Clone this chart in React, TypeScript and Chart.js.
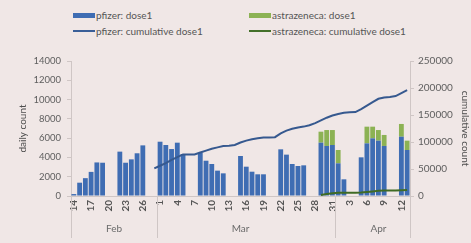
import React, { useEffect, useRef } from "react";
import { Chart, registerables } from "chart.js";

Chart.register(...registerables);

const feb = [14, 15, 16, 17, 18, 19, 20, 21, 22, 23, 24, 25, 26, 27, 28];
const mar = Array.from({ length: 31 }, (_, i) => i + 1);
const apr = [1, 2, 3, 4, 5, 6, 7, 8, 9, 10, 11, 12, 13];

const dayLabels: string[] = [
  ...feb.map((d) => "Feb " + d),
  ...mar.map((d) => "Mar " + d),
  ...apr.map((d) => "Apr " + d),
];

const months = ["Feb", "Mar", "Apr"];
const monthLabelAnchor = ["Feb 21", "Mar 15", "Apr 8"];

const pfizerDose1 = [
  // Feb 14-28
  200, 1380, 1850, 2500, 3480, 3450, 0, 0, 4600, 3450, 3800, 4430, 5250, 0, 0,
  // Mar 1-31
  5630, 5290, 4870, 5530, 4350, 0, 0, 4490, 3660, 3320, 2630, 2350, 0, 0, 4150,
  3040, 2520, 2250, 2250, 0, 0, 4840, 4290, 3320, 3110, 3180, 0, 0, 5530, 5190,
  5290,
  // Apr 1-13
  3390, 1730, 0, 0, 4010, 5460, 5980, 5740, 5190, 0, 0, 6150, 4770,
];

const azDose1 = [
  0, 0, 0, 0, 0, 0, 0, 0, 0, 0, 0, 0, 0, 0, 0,
  0, 0, 0, 0, 0, 0, 0, 0, 0, 0, 0, 0, 0, 0, 0,
  0, 0, 0, 0, 0, 0, 0, 0, 0, 0, 0, 0, 0, 1140, 1650,
  1550,
  1380, 0, 0, 0, 0, 1730, 1210, 1100, 1140, 0, 0, 1320, 970,
];

const pfizerCumulative: (number | null)[] = [
  null, null, null, null, null, null, null, null, null, null, null, null, null, null, 51000,
  56000, 61000, 67000, 72000, 77000, 77000, 77000, 80500, 84000, 87500, 90000, 92500, 93000, 94500, 99000,
  102500, 105000, 107000, 108500, 108500, 109000, 116000, 121000, 124500, 127000, 128500, 131000, 135000, 140000, 145000,
  149000,
  152000, 154000, 155000, 155500, 161000, 167500, 174000, 180000, 182500, 183500, 185000, 190500, 196000,
];

const azCumulative: (number | null)[] = [
  null, null, null, null, null, null, null, null, null, null, null, null, null, null, null,
  null, null, null, null, null, null, null, null, null, null, null, null, null, null, null,
  null, null, null, null, null, null, null, null, null, null, null, null, null, 2000, 3500,
  5000,
  6000, 6000, 6000, 6000, 6500, 7500, 8500, 9500, 10000, 10000, 10000, 10500, 11000,
];

const legendItems = [
  { label: "pfizer: dose1", color: "#3f6db3", kind: "box", col: 0, row: 0 },
  { label: "astrazeneca: dose1", color: "#8cb254", kind: "box", col: 1, row: 0 },
  { label: "pfizer: cumulative dose1", color: "#3a5f98", kind: "line", col: 0, row: 1 },
  { label: "astrazeneca: cumulative dose1", color: "#44702a", kind: "line", col: 1, row: 1 },
];

const BG = "#f0e7e6";
const FONT = "Lato, 'Open Sans', sans-serif";

export default function App() {
  const ref = useRef<HTMLCanvasElement | null>(null);

  useEffect(() => {
    document.body.style.margin = "0";
    document.body.style.background = BG;
    const canvas = ref.current;
    if (!canvas) return;

    const monthPlugin = {
      id: "monthAxis",
      afterDraw(chart: any) {
        const { ctx, chartArea } = chart;
        const x = chart.scales.x;
        const half = (x.getPixelForValue(1) - x.getPixelForValue(0)) / 2;
        ctx.save();
        // day tick labels, rotated
        ctx.fillStyle = "#555555";
        ctx.font = "bold 10px " + FONT;
        ctx.textAlign = "right";
        ctx.textBaseline = "middle";
        dayLabels.forEach((lab, i) => {
          if (i % 3 !== 0) return;
          const px = x.getPixelForValue(i);
          ctx.save();
          ctx.translate(px, chartArea.bottom + 4);
          ctx.rotate(-Math.PI / 2);
          ctx.fillText(lab.split(" ")[1], 0, 0);
          ctx.restore();
        });
        // month separators
        ctx.strokeStyle = "#cfc6c5";
        ctx.lineWidth = 1;
        const boundaries: number[] = [chartArea.left];
        for (let i = 1; i < dayLabels.length; i++) {
          if (dayLabels[i].slice(0, 3) !== dayLabels[i - 1].slice(0, 3)) {
            boundaries.push(x.getPixelForValue(i) - half);
          }
        }
        boundaries.push(chartArea.right);
        boundaries.forEach((bx) => {
          const px = Math.round(bx) + 0.5;
          ctx.beginPath();
          ctx.moveTo(px, chartArea.bottom);
          ctx.lineTo(px, chartArea.bottom + 42);
          ctx.stroke();
        });
        ctx.fillStyle = "#6b6b6b";
        ctx.font = "10px " + FONT;
        ctx.textAlign = "center";
        ctx.textBaseline = "middle";
        months.forEach((m, i) => {
          const idx = dayLabels.indexOf(monthLabelAnchor[i]);
          ctx.fillText(m, x.getPixelForValue(idx), chartArea.bottom + 33);
        });
        ctx.restore();
      },
    };

    const chart = new Chart(canvas, {
      type: "bar",
      data: {
        labels: dayLabels,
        datasets: [
          {
            type: "line",
            label: "pfizer: cumulative dose1",
            data: pfizerCumulative,
            yAxisID: "y1",
            borderColor: "#36598f",
            borderWidth: 2,
            pointRadius: 0,
            tension: 0,
            order: 0,
          } as any,
          {
            type: "line",
            label: "astrazeneca: cumulative dose1",
            data: azCumulative,
            yAxisID: "y1",
            borderColor: "#3f6b25",
            borderWidth: 2,
            pointRadius: 0,
            tension: 0,
            order: 0,
          } as any,
          {
            type: "bar",
            label: "pfizer: dose1",
            data: pfizerDose1,
            yAxisID: "y",
            backgroundColor: "#3f6db3",
            borderWidth: 0,
            categoryPercentage: 1,
            barPercentage: 0.84,
            stack: "s",
            order: 1,
          },
          {
            type: "bar",
            label: "astrazeneca: dose1",
            data: azDose1,
            yAxisID: "y",
            backgroundColor: "#8cb254",
            borderWidth: 0,
            categoryPercentage: 1,
            barPercentage: 0.84,
            stack: "s",
            order: 1,
          },
        ],
      },
      options: {
        animation: false,
        responsive: false,
        maintainAspectRatio: false,
        layout: { padding: { top: 61, left: 0, right: 0, bottom: 0 } },
        font: { family: FONT },
        plugins: {
          legend: { display: false },
          tooltip: { enabled: false },
        },
        scales: {
          x: {
            stacked: true,
            offset: true,
            grid: { display: false, drawTicks: false },
            border: { display: true, color: "#cfc6c5" },
            ticks: { display: false, autoSkip: false },
            afterFit: (s: any) => {
              s.height = 47;
            },
          },
          y: {
            position: "left",
            stacked: true,
            min: 0,
            max: 14000,
            grid: {
              display: true,
              drawOnChartArea: false,
              drawTicks: true,
              tickLength: 4,
              color: "#cfc6c5",
            },
            border: { display: true, color: "#cfc6c5" },
            ticks: {
              stepSize: 2000,
              padding: 6,
              color: "#5e5e5e",
              font: { size: 9.5, family: FONT },
              callback: (v: any) => String(v),
            },
            title: {
              display: true,
              text: "daily count",
              color: "#4d4d4d",
              font: { size: 10, family: FONT },
              padding: { top: 17, bottom: 0 },
            },
            afterFit: (s: any) => {
              s.width = 71;
            },
          },
          y1: {
            position: "right",
            stacked: false,
            min: 0,
            max: 250000,
            grid: {
              display: true,
              drawOnChartArea: false,
              drawTicks: true,
              tickLength: 4,
              color: "#cfc6c5",
            },
            border: { display: true, color: "#cfc6c5" },
            ticks: {
              stepSize: 50000,
              padding: 4,
              color: "#5e5e5e",
              font: { size: 10, family: FONT },
              callback: (v: any) => String(v),
            },
            title: {
              display: true,
              text: "cumulative count",
              color: "#4d4d4d",
              font: { size: 10, family: FONT },
              padding: { top: 0, bottom: 0 },
            },
            afterFit: (s: any) => {
              s.width = 61;
            },
          },
        },
      },
      plugins: [monthPlugin],
    });

    return () => chart.destroy();
  }, []);

  return (
    <div
      style={{
        position: "fixed",
        left: 0,
        top: 0,
        width: 471,
        height: 243,
        background: BG,
        fontFamily: FONT,
      }}
    >
      {legendItems.map((it, i) => (
        <div
          key={i}
          style={{
            position: "absolute",
            left: it.col === 0 ? 73 : 249,
            top: it.row === 0 ? 9 : 25,
            height: 12,
            display: "flex",
            alignItems: "center",
            fontSize: 10,
            color: "#555555",
            whiteSpace: "nowrap",
          }}
        >
          <span
            style={{
              display: "inline-block",
              width: 22,
              height: it.kind === "box" ? 5 : 2,
              background: it.color,
              marginRight: 1,
            }}
          />
          <span>{it.label}</span>
        </div>
      ))}
      <canvas
        ref={ref}
        width={471}
        height={243}
        style={{ position: "absolute", left: 0, top: 0, width: 471, height: 243 }}
      />
    </div>
  );
}
